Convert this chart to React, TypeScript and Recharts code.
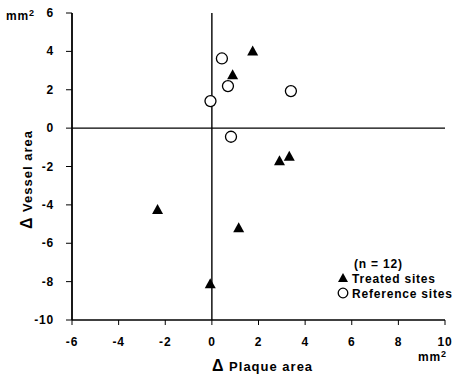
import React from "react";
import { ScatterChart, Scatter, XAxis, YAxis, ReferenceLine } from "recharts";

const treatedX = [1.75, 0.89, 2.9, 3.32, -2.33, 1.15, -0.07];
const treatedY = [4.0, 2.76, -1.72, -1.49, -4.27, -5.22, -8.14];
const referenceX = [0.43, 0.69, 3.39, -0.06, 0.82];
const referenceY = [3.63, 2.19, 1.93, 1.41, -0.45];
const xTicks = [-6, -4, -2, 0, 2, 4, 6, 8, 10];
const yTicks = [-10, -8, -6, -4, -2, 0, 2, 4, 6];

const treated = treatedX.map((x, i) => ({ x, y: treatedY[i] }));
const reference = referenceX.map((x, i) => ({ x, y: referenceY[i] }));

const FONT = "'Liberation Sans', Arial, sans-serif";
const txt = {
  fontFamily: FONT,
  fontWeight: "bold" as const,
  fontSize: 12,
  fill: "#000",
  letterSpacing: 0.8,
};
const lbl = { ...txt, fontSize: 13, letterSpacing: 1 };

const Tri = (p: any) => {
  const { cx, cy } = p;
  if (cx == null || cy == null) return <g />;
  return (
    <path
      d={`M${cx},${cy - 6} L${cx + 5.5},${cy + 4} L${cx - 5.5},${cy + 4} Z`}
      fill="#000"
    />
  );
};

const Circ = (p: any) => {
  const { cx, cy } = p;
  if (cx == null || cy == null) return <g />;
  return <circle cx={cx} cy={cy} r={5.5} fill="#fff" stroke="#000" strokeWidth={1.3} />;
};

const YTick = (p: any) => (
  <text x={p.x} y={p.y} dy={4} textAnchor="end" style={txt}>
    {p.payload.value}
  </text>
);
const XTick = (p: any) => (
  <text x={p.x} y={p.y} dy={10} textAnchor="middle" style={txt}>
    {p.payload.value}
  </text>
);

export default function App() {
  return (
    <div style={{ position: "absolute", left: 0, top: 0, width: 461, height: 380, background: "#fff" }}>
      <ScatterChart
        width={461}
        height={380}
        margin={{ top: 13, right: 16, bottom: 0, left: 0 }}
      >
        <XAxis
          type="number"
          dataKey="x"
          domain={[-6, 10]}
          ticks={xTicks}
          interval={0}
          height={60}
          tickSize={5}
          tickMargin={11}
          axisLine={{ stroke: "#000", strokeWidth: 1.6 }}
          tickLine={{ stroke: "#000", strokeWidth: 1 }}
          tick={<XTick />}
          allowDataOverflow
        />
        <YAxis
          type="number"
          dataKey="y"
          domain={[-10, 6]}
          ticks={yTicks}
          interval={0}
          width={72}
          tickSize={6}
          tickMargin={12}
          axisLine={{ stroke: "#000", strokeWidth: 1.8 }}
          tickLine={{ stroke: "#000", strokeWidth: 1 }}
          tick={<YTick />}
          allowDataOverflow
        />
        <ReferenceLine x={0} stroke="#000" strokeWidth={1.4} />
        <ReferenceLine y={0} stroke="#000" strokeWidth={1.4} />
        <Scatter data={reference} shape={<Circ />} isAnimationActive={false} />
        <Scatter data={treated} shape={<Tri />} isAnimationActive={false} />
      </ScatterChart>
      <svg
        width={461}
        height={380}
        style={{ position: "absolute", left: 0, top: 0, pointerEvents: "none" }}
      >
        <text x={6} y={20} style={txt}>
          mm
          <tspan dy={-4} fontSize={9}>2</tspan>
        </text>
        <text x={418} y={361} style={txt}>
          mm
          <tspan dy={-4} fontSize={9}>2</tspan>
        </text>
        <text x={212} y={371} style={lbl}>
          <tspan fontSize={16}>Δ</tspan> Plaque area
        </text>
        <text
          x={0}
          y={0}
          transform="translate(32,229) rotate(-90)"
          style={lbl}
        >
          <tspan fontSize={16}>Δ</tspan> Vessel area
        </text>
        <text x={354} y={268} style={txt}>(n = 12)</text>
        <path d="M343,273 L348,282 L338,282 Z" fill="#000" />
        <text x={352} y={283} style={txt}>Treated sites</text>
        <circle cx={343} cy={293} r={4.8} fill="#fff" stroke="#000" strokeWidth={1.3} />
        <text x={352} y={298} style={txt}>Reference sites</text>
      </svg>
    </div>
  );
}
